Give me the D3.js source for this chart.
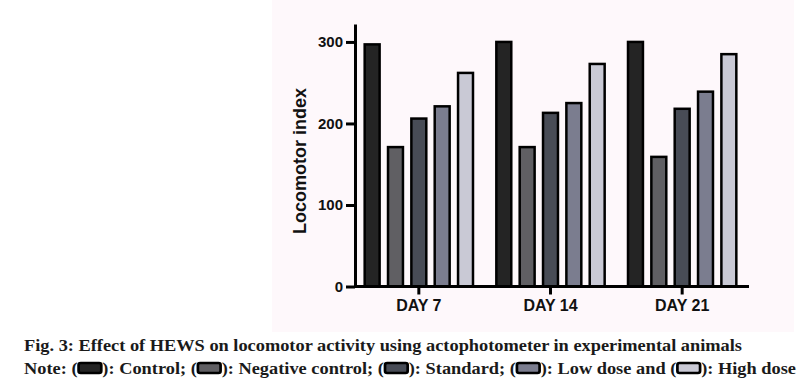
<!DOCTYPE html>
<html>
<head>
<meta charset="utf-8">
<script src="https://cdn.jsdelivr.net/npm/d3@7"></script>
<style>
  body { margin: 0; background: #fff; }
  svg { display: block; }
</style>
</head>
<body>
<script>
var width = 810, height = 389;

// data
var days = ["DAY 7", "DAY 14", "DAY 21"];
var groups = ["Control", "Negative control", "Standard", "Low dose", "High dose"];
var control = [297, 300, 300];
var negative = [171, 171, 159];
var standard = [206, 213, 218];
var lowDose = [221, 225, 239];
var highDose = [262, 273, 285];
var yTicks = [0, 100, 200, 300];
var colors = ["#242424", "#605f63", "#484c56", "#7b7d8f", "#c9c9d5"];

var series = [control, negative, standard, lowDose, highDose];

var svg = d3.select("body").append("svg")
    .attr("width", width)
    .attr("height", height);

// the chart sits on a slightly tinted image area
svg.append("rect")
    .attr("x", 272).attr("y", 0)
    .attr("width", 522).attr("height", 332)
    .attr("fill", "#fef8fb");

var x0 = d3.scaleBand().domain(days).range([353, 748]);
var x1 = d3.scaleBand().domain(groups).range([0, x0.bandwidth()])
    .paddingInner(0.36).paddingOuter(0.5);
var y = d3.scaleLinear().domain([0, 322]).range([286.5, 24]);

var chart = svg.append("g");

// bars
chart.selectAll("g.day")
    .data(days)
    .enter().append("g")
    .attr("class", "day")
    .attr("transform", function(d) { return "translate(" + x0(d) + ",0)"; })
    .selectAll("rect")
    .data(function(d, i) {
        return groups.map(function(g, j) { return {group: g, value: series[j][i], idx: j}; });
    })
    .enter().append("rect")
    .attr("x", function(d) { return x1(d.group); })
    .attr("y", function(d) { return y(d.value); })
    .attr("width", x1.bandwidth())
    .attr("height", function(d) { return y(0) - y(d.value); })
    .attr("fill", function(d) { return colors[d.idx]; })
    .attr("stroke", "#000")
    .attr("stroke-width", 2.5);

// y axis
var yAxis = chart.append("g")
    .attr("transform", "translate(355,0)")
    .call(d3.axisLeft(y).tickValues(yTicks).tickSize(9).tickSizeOuter(0).tickPadding(3));
yAxis.select(".domain").attr("stroke-width", 3);
yAxis.selectAll(".tick line").attr("stroke-width", 3);
yAxis.selectAll(".tick text")
    .attr("font-family", "'Liberation Sans', Arial, sans-serif")
    .attr("font-weight", "bold")
    .attr("font-size", 15)
    .attr("fill", "#111");

// x axis
var xAxis = chart.append("g")
    .attr("transform", "translate(0," + y(0) + ")")
    .call(d3.axisBottom(x0).tickSize(8).tickSizeOuter(0).tickPadding(5));
xAxis.select(".domain").attr("stroke-width", 3)
    .attr("d", "M" + 354 + ",0H" + 749);
xAxis.selectAll(".tick line").attr("stroke-width", 3);
xAxis.selectAll(".tick text")
    .attr("font-family", "'Liberation Sans', Arial, sans-serif")
    .attr("font-weight", "bold")
    .attr("font-size", 16)
    .attr("fill", "#111");

// y axis title
chart.append("text")
    .attr("transform", "translate(305.5,161) rotate(-90)")
    .attr("text-anchor", "middle")
    .attr("font-family", "'Liberation Sans', Arial, sans-serif")
    .attr("font-weight", "bold")
    .attr("font-size", 18)
    .attr("fill", "#111")
    .text("Locomotor index");

// caption
var capFont = "'Liberation Serif', 'Times New Roman', serif";
svg.append("text")
    .attr("x", 24).attr("y", 351)
    .attr("font-family", capFont)
    .attr("font-weight", "bold")
    .attr("font-size", 17)
    .attr("fill", "#1a1a1a")
    .attr("textLength", 718)
    .attr("lengthAdjust", "spacingAndGlyphs")
    .text("Fig. 3: Effect of HEWS on locomotor activity using actophotometer in experimental animals");

// note line with swatches
var pieces = ["Note: (", "): Control; (", "): Negative control; (", "): Standard; (", "): Low dose and (", "): High dose"];
var note = svg.append("g");
var cx = 0, swW = 21, swH = 10;
pieces.forEach(function(p, i) {
    var t = note.append("text")
        .attr("x", cx).attr("y", 0)
        .attr("font-family", capFont)
        .attr("font-weight", "bold")
        .attr("font-size", 17)
        .attr("fill", "#1a1a1a")
        .text(p);
    cx += t.node().getComputedTextLength();
    if (i < colors.length) {
        note.append("rect")
            .attr("x", cx + 1).attr("y", -11)
            .attr("width", swW).attr("height", swH)
            .attr("rx", 2)
            .attr("fill", colors[i])
            .attr("stroke", "#000")
            .attr("stroke-width", 2.5);
        cx += swW + 2;
    }
});
var sx = 772 / cx;
note.attr("transform", "translate(24,374) scale(" + sx + ",1)");
</script>
</body>
</html>
